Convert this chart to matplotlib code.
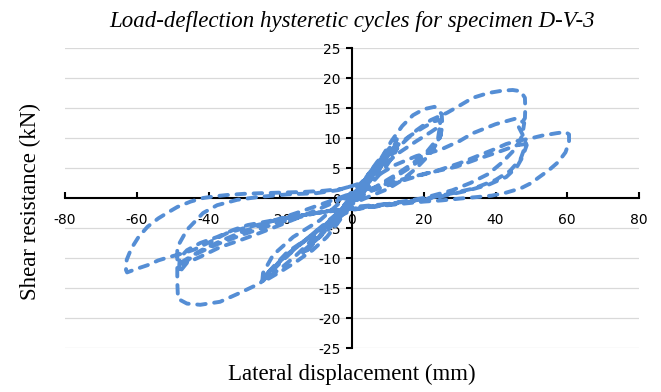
import matplotlib
matplotlib.use('Agg')
import matplotlib.pyplot as plt

# hysteresis path, grouped by cycle amplitude
small_x = [0, 1.5, 3, 4.5, 3, 1, -1, -3, -4.5, -3, -1, 1, 3, 5, 6.5, 5, 2, 0, -2, -4, -6, -7, -5, -2, 0, 2]
small_y = [0, 1.2, 2.4, 3.5, 2.2, 0.6, -0.8, -2, -3, -2.4, -1, 0.5, 2, 3.8, 4.8, 3.5, 1, -0.3, -1.5, -2.8, -4, -4.8, -4, -2.2, -0.8, 0.8]

c12_x = [4, 7, 10, 12.5, 11.5, 8, 5, 2, 0, -3, -6, -9, -12, -12.5, -10, -7, -4, -1, 1, 4, 8, 11, 13, 12, 9, 6, 3, 0,
         -3, -7, -10, -13, -14, -11, -8, -5, -2, 0]
c12_y = [3.5, 6, 8, 9.8, 8.3, 5.2, 2.8, 0.8, -0.5, -2.5, -4.5, -6.5, -8.2, -8.8, -6.8, -4.5, -2.4, -0.4, 1, 3.2, 6, 8, 9.3, 7.5, 4.8, 2.8, 0.8, -0.8,
         -3, -5.5, -7, -8.5, -9.5, -7.8, -5.5, -3.5, -1.2, 0.3]

c25a_x = [2, 5, 8, 11, 14, 17, 20, 23, 25, 25.2, 24.5, 22, 18, 14, 10, 5, 0, -4, -8, -12, -16, -20, -23, -25, -24.8, -22, -16.4, -8.9, -2.5, 0]
c25a_y = [2, 4, 6.5, 9.5, 12, 13.8, 14.8, 15.2, 14, 12, 10, 7.5, 5, 3, 1.5, 0.3, -1, -3, -5, -7.5, -9.8, -11.8, -13, -13.8, -12.5, -9.5, -6.5, -3.7, -0.3, 1]

c25b_x = [3, 7, 12, 16, 20, 23, 24.5, 24.8, 23, 20, 16, 12, 8, 4, 0, -2, -4, -7, -11, -16, -20, -24, -25, -23, -19, -15, -11, -7, -3, 0]
c25b_y = [2.8, 5.8, 8.5, 10.3, 11.8, 12.8, 13, 10.5, 8.6, 6.8, 5, 3.5, 2, 0.8, -1, -2.5, -4.2, -6.5, -8.7, -10.8, -12.3, -13.7, -14, -12.5, -9.8, -8, -6.2, -4.2, -2, 0.5]

c25c_x = [3, 8, 13, 18, 22, 24.5, 24, 21, 17, 12, 7, 2, -2, -6, -10, -15, -20, -23.5, -24.5, -22, -18, -13, -8, -4, 0]
c25c_y = [2.2, 5, 7.5, 9.5, 11, 12, 10, 7.8, 5.8, 3.8, 2, 0.3, -1.5, -3.5, -5.5, -8, -10.5, -12.5, -13.2, -11.5, -9, -7, -5, -2.8, 0.5]

c48a_x = [3, 8, 13, 18, 22, 26.5, 30, 33.7, 38, 42, 44.8, 47, 48.2, 48.3, 48.2, 46.5, 47.6, 48.7, 47.5, 46, 43, 38, 32, 26, 20,
          14, 8, 3, 0, -5, -10, -15, -20, -25.6, -31.2, -36.8, -42.3, -46, -48.5, -48.7, -48.7, -48.7, -46, -41.5, -37.6, -32,
          -25.6, -18, -10, -4, 0]
c48a_y = [2.2, 5.2, 8.5, 11.3, 13, 14.2, 15.4, 16.7, 17.5, 17.9, 18, 17.8, 16.7, 15, 13.3, 11.8, 10.5, 8.8, 6.8, 5.2, 3.5, 2.2, 1.2, 0.4, -0.3,
          -0.8, -1.3, -1.7, -2, -3.5, -5.5, -8, -10.8, -14.2, -15.8, -17.3, -17.8, -17.6, -16.8, -14, -11, -8.2, -5.3, -2.5, -1.2, -0.3,
          0.2, 0.6, 0.8, 1.3, 2]

c48b_x = [5, 12, 18, 24.5, 30, 33.7, 40, 46, 48, 47.5, 46, 42, 38, 33, 28, 20, 10, 0, -10, -20, -29, -33, -37.6, -42.3, -46, -48,
          -48.3, -46, -42.3, -36.8, -31, -25.6, -20, -13, -6, 0]
c48b_y = [3, 5.5, 7, 8, 9.5, 10.8, 12.3, 13.3, 12.5, 10.5, 8.5, 6, 4, 2.5, 1.3, 0, -1, -1.8, -2.5, -3.5, -4.5, -5.3, -6.5, -7.5, -8.7, -10,
          -12.5, -10.8, -9.8, -8.2, -7, -5.8, -4.5, -2.8, -1, 0.8]

c48c_x = [5, 12, 20, 29, 35, 40, 46, 48.5, 47, 44, 40, 34, 28, 20, 10, 0, -10, -20, -30, -38, -44, -48, -47, -42, -36, -30, -22, -14, -6, 0]
c48c_y = [1.5, 2.8, 4, 5.2, 6.5, 7.5, 8.8, 9, 6.5, 4.5, 3, 1.6, 0.8, -0.2, -1, -1.5, -2.5, -4, -6, -7.8, -9.5, -11.5, -10.5, -8.7, -7, -5.5, -3.8, -2.2, -0.5, 0.8]

c60_x = [6, 12, 18, 24.5, 30, 35, 40, 43, 46, 49.6, 53, 57, 59.5, 60.5, 60.5, 59.5, 57.5, 55, 52, 50, 47, 43, 39, 35.6, 30,
         25, 20, 15, 10, 5, 0]
c60_y = [1.3, 2.5, 3.6, 4.7, 5.8, 7, 8.2, 9, 9.5, 9.9, 10.4, 10.8, 11, 10.6, 9.3, 7.6, 6, 4.7, 3.4, 2.5, 1.6, 0.9, 0.4, 0.2, -0.1,
         -0.4, -0.6, -0.9, -1.2, -1.5, -1.9]

c63_x = [-5, -10, -15, -20, -25, -30, -35, -39.5, -44, -47, -50.7, -54, -57, -60, -62.7, -63, -62.8, -61.5, -59.5, -57, -54, -51,
         -48.7, -45, -41.5, -38, -34.8, -30, -25.6, -20, -14, -8, -3, 0]
c63_y = [-2.1, -2.5, -3, -3.5, -4.3, -5, -5.9, -7.3, -8.6, -9.2, -9.8, -10.4, -11.2, -11.8, -12.4, -12, -10.3, -8.4, -6.5, -4.8, -3.4, -2.3,
         -1.5, -0.6, 0, 0.3, 0.5, 0.7, 0.8, 0.9, 1.0, 1.2, 1.5, 2]

disp = small_x + c12_x + c25a_x + c25b_x + c25c_x + c48a_x + c48b_x + c48c_x + c60_x + c63_x
force = small_y + c12_y + c25a_y + c25b_y + c25c_y + c48a_y + c48b_y + c48c_y + c60_y + c63_y

x_ticks = [-80, -60, -40, -20, 0, 20, 40, 60, 80]
y_ticks = [-25, -20, -15, -10, -5, 0, 5, 10, 15, 20, 25]

serif = 'Liberation Serif'
sans = 'Liberation Sans'

fig = plt.figure(figsize=(6.61, 3.92), dpi=100)
ax = fig.add_axes([65 / 661, 1 - 348 / 392, 574 / 661, 300 / 392])

line, = ax.plot(disp, force, color='#558ED5', lw=2.8, zorder=3,
                dash_capstyle='round', solid_joinstyle='round')
line.set_dashes((2.2, 2.2))

ax.set_xlim(-80, 80)
ax.set_ylim(-25, 25)
ax.set_xticks(x_ticks)
ax.set_yticks(y_ticks)
ax.set_xticklabels([str(v) for v in x_ticks], family=sans, fontsize=11, color='#595959')
ax.set_yticklabels([str(v) for v in y_ticks], family=sans, fontsize=11, color='#595959')

ax.spines['left'].set_position(('data', 0))
ax.spines['bottom'].set_position(('data', 0))
ax.spines['top'].set_visible(False)
ax.spines['right'].set_visible(False)
for s in ['left', 'bottom']:
    ax.spines[s].set_linewidth(1.5)
    ax.spines[s].set_color('black')
ax.tick_params(axis='x', direction='in', length=4, width=1.5, pad=11)
ax.tick_params(axis='y', direction='out', length=4, width=1.5, pad=4)

ax.yaxis.grid(True, color='#D9D9D9', lw=0.9)
ax.set_axisbelow(True)

fig.text(352 / 661, 1 - 22 / 392, 'Load-deflection hysteretic cycles for specimen D-V-3',
         ha='center', va='center', fontsize=16.5, style='italic', family=serif)
fig.text(30 / 661, 1 - 202 / 392, 'Shear resistance (kN)', rotation=90,
         ha='center', va='center', fontsize=16.5, family=serif)
fig.text(352 / 661, 1 - 374 / 392, 'Lateral displacement (mm)',
         ha='center', va='center', fontsize=16.5, family=serif)

fig.savefig('out.png', dpi=100)
